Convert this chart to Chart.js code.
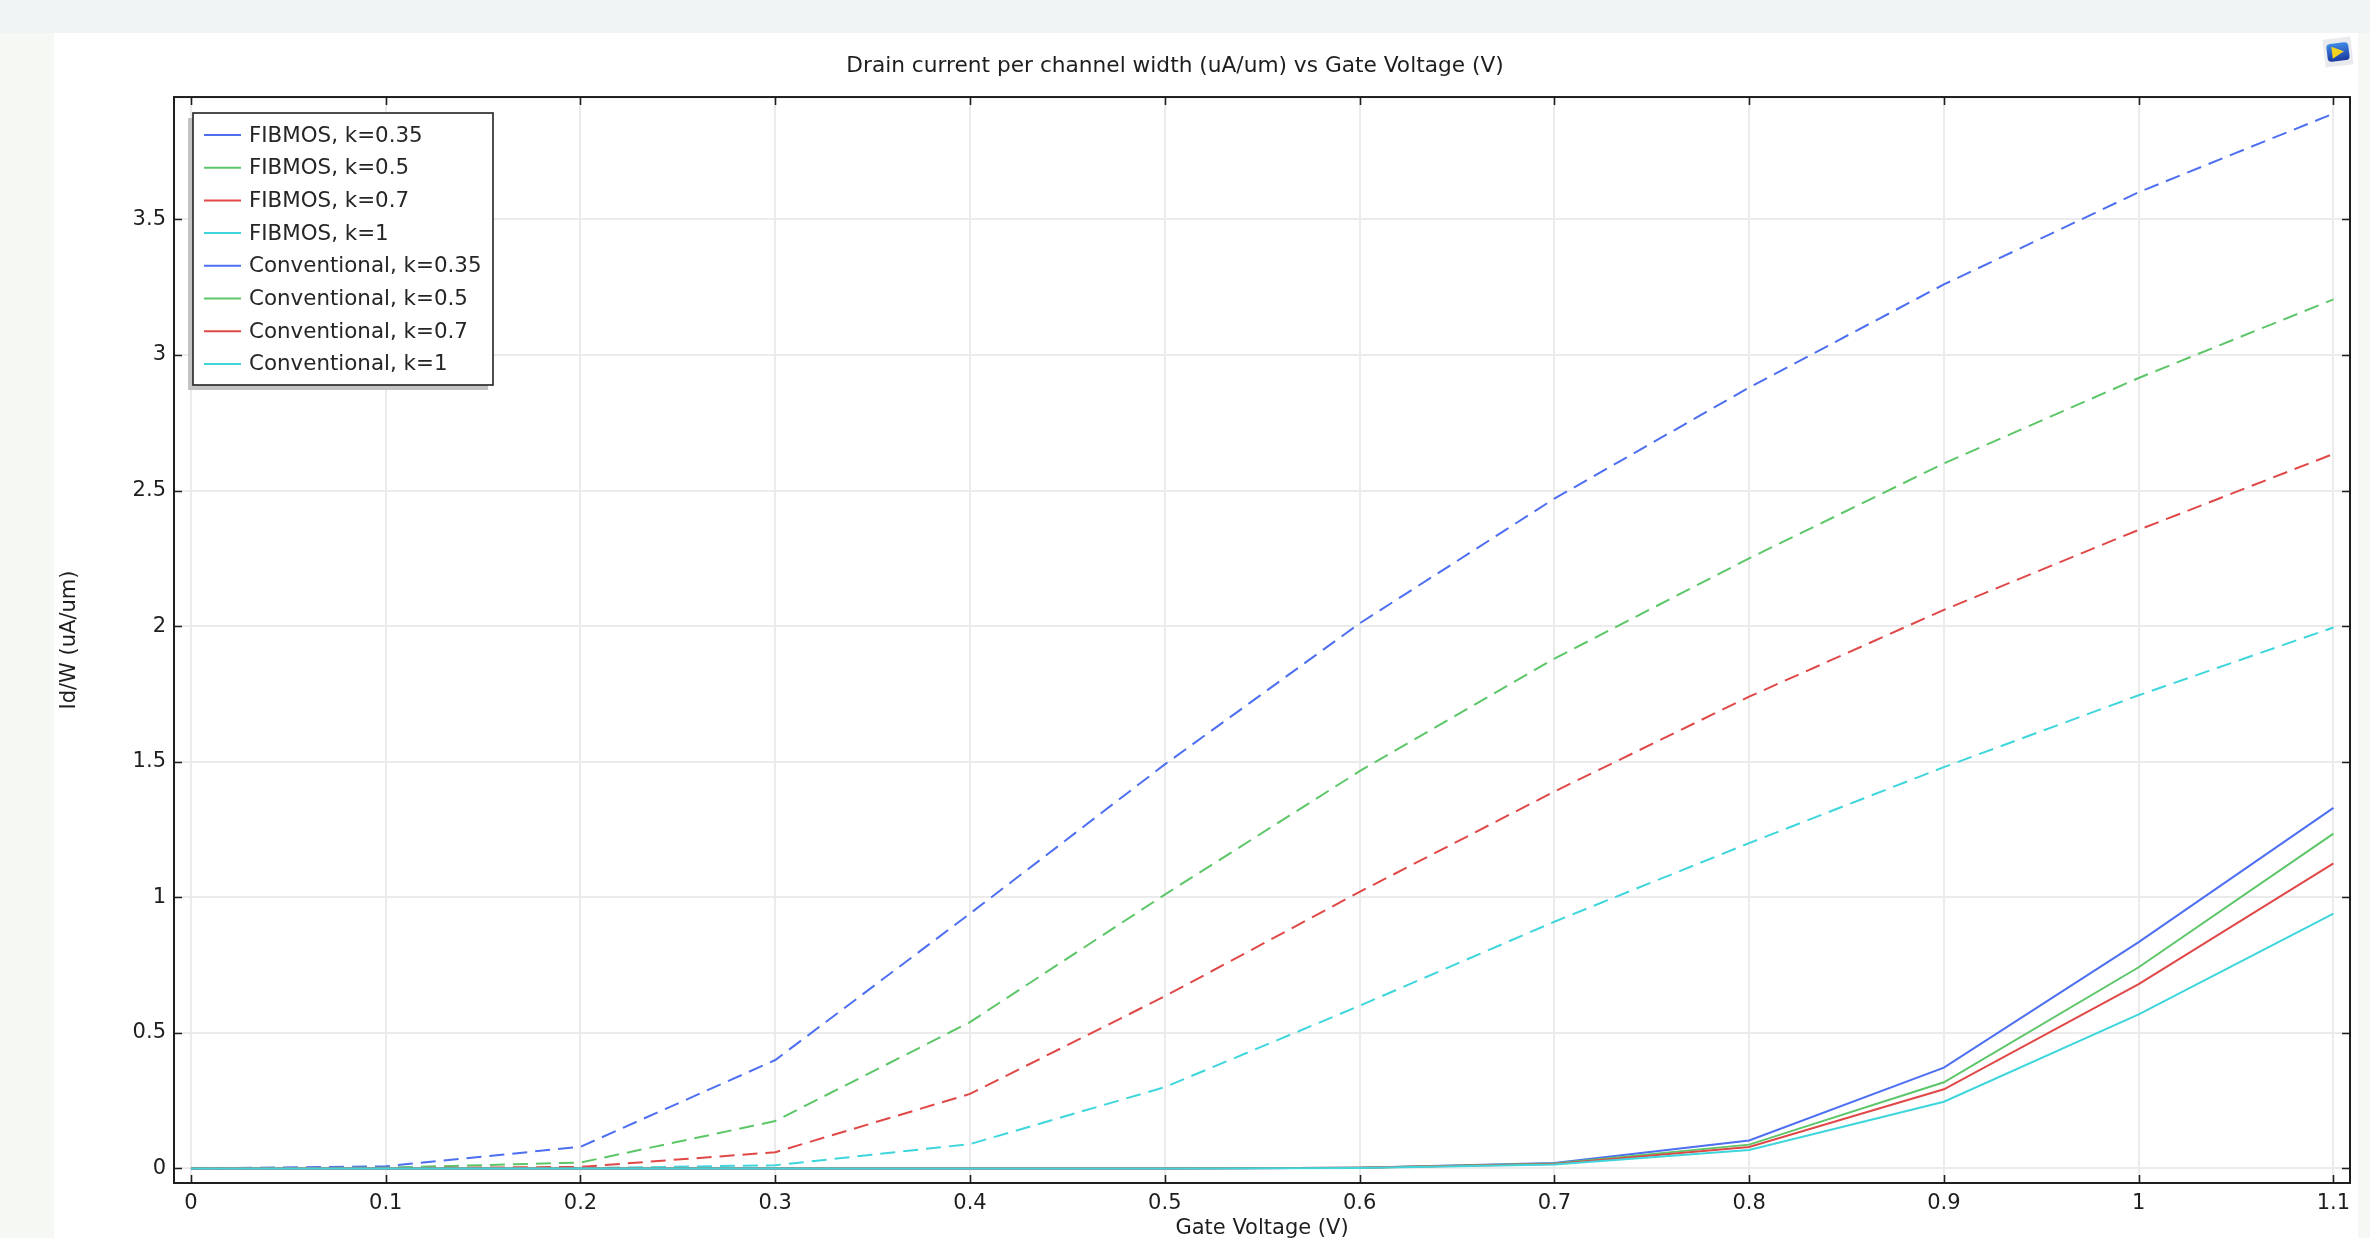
<!DOCTYPE html>
<html>
<head>
<meta charset="utf-8">
<script src="https://cdn.jsdelivr.net/npm/chart.js@4/dist/chart.umd.min.js"></script>
<style>
  html, body { margin: 0; padding: 0; background: #f6f8f3; }
  canvas { display: block; }
</style>
</head>
<body>
<canvas id="grafica" width="2370" height="1238"></canvas>
<script>
// Datos
const gateVoltage = [0, 0.1, 0.2, 0.3, 0.4, 0.5, 0.6, 0.7, 0.8, 0.9, 1.0, 1.1];

const fibmos035 = [0, 0.008, 0.08, 0.40, 0.94, 1.49, 2.01, 2.47, 2.88, 3.26, 3.60, 3.89];
const fibmos05 = [0, 0.003, 0.022, 0.175, 0.54, 1.01, 1.465, 1.88, 2.25, 2.60, 2.915, 3.205];
const fibmos07 = [0, 0.001, 0.006, 0.06, 0.275, 0.635, 1.02, 1.39, 1.74, 2.06, 2.355, 2.635];
const fibmos1 = [0, 0, 0.001, 0.012, 0.09, 0.30, 0.60, 0.91, 1.20, 1.48, 1.745, 1.995];

const conv035 = [0, 0, 0, 0, 0, 0, 0.003, 0.02, 0.103, 0.372, 0.835, 1.33];
const conv05 = [0, 0, 0, 0, 0, 0, 0.003, 0.018, 0.088, 0.318, 0.742, 1.235];
const conv07 = [0, 0, 0, 0, 0, 0, 0.003, 0.017, 0.079, 0.292, 0.68, 1.125];
const conv1 = [0, 0, 0, 0, 0, 0, 0.002, 0.015, 0.068, 0.246, 0.568, 0.94];

const seriesNames = [
  "FIBMOS, k=0.35", "FIBMOS, k=0.5", "FIBMOS, k=0.7", "FIBMOS, k=1",
  "Conventional, k=0.35", "Conventional, k=0.5", "Conventional, k=0.7", "Conventional, k=1",
];
const seriesValues = [fibmos035, fibmos05, fibmos07, fibmos1, conv035, conv05, conv07, conv1];

const xTicks = [0, 0.1, 0.2, 0.3, 0.4, 0.5, 0.6, 0.7, 0.8, 0.9, 1.0, 1.1];
const xTickLabels = ["0", "0.1", "0.2", "0.3", "0.4", "0.5", "0.6", "0.7", "0.8", "0.9", "1", "1.1"];
const yTicks = [0, 0.5, 1, 1.5, 2, 2.5, 3, 3.5];
const yTickLabels = ["0", "0.5", "1", "1.5", "2", "2.5", "3", "3.5"];

const titulo = "Drain current per channel width (uA/um) vs Gate Voltage (V)";
const tituloX = "Gate Voltage (V)";
const tituloY = "Id/W (uA/um)";

const colores = ["#4d6ff0", "#5cc668", "#e04848", "#3ed6dc"];
const TEXTO = "#1e1e1e";

Chart.defaults.font.family = "'DejaVu Sans', sans-serif";
Chart.defaults.font.size = 21;
Chart.defaults.color = TEXTO;

const datasets = seriesValues.map((vals, i) => ({
  label: seriesNames[i],
  data: gateVoltage.map((x, j) => ({ x: x, y: vals[j] })),
  borderColor: colores[i % 4],
  backgroundColor: colores[i % 4],
  borderWidth: 2,
  borderDash: i < 4 ? [15, 8] : [],
  pointRadius: 0,
  tension: 0,
  fill: false,
  order: seriesValues.length - i,
}));

// Fondo de la ventana y panel blanco
const fondo = {
  id: "fondo",
  afterLayout(chart) {
    // el título del original está algo desplazado a la izquierda
    if (chart.titleBlock) {
      chart.titleBlock.left -= 27;
      chart.titleBlock.right -= 27;
    }
  },
  beforeDraw(chart) {
    const ctx = chart.ctx;
    ctx.save();
    ctx.fillStyle = "#f6f8f3";
    ctx.fillRect(0, 0, chart.width, chart.height);
    ctx.fillStyle = "#f1f4f4";
    ctx.fillRect(0, 0, chart.width, 33);
    ctx.fillStyle = "#ffffff";
    ctx.fillRect(54, 33, 2304, chart.height - 33);
    ctx.restore();
  },
};

// Marco, marcas interiores, leyenda e icono
const marco = {
  id: "marco",
  afterDraw(chart) {
    const ctx = chart.ctx;
    const a = chart.chartArea;
    const sx = chart.scales.x;
    const sy = chart.scales.y;
    ctx.save();
    ctx.strokeStyle = TEXTO;
    ctx.lineWidth = 2;
    ctx.strokeRect(a.left, a.top, a.right - a.left, a.bottom - a.top);

    const L = 8;
    ctx.beginPath();
    xTicks.forEach((v) => {
      const px = Math.round(sx.getPixelForValue(v)) + 0.5;
      ctx.moveTo(px, a.bottom);
      ctx.lineTo(px, a.bottom - L);
      ctx.moveTo(px, a.top);
      ctx.lineTo(px, a.top + L);
    });
    yTicks.forEach((v) => {
      const py = Math.round(sy.getPixelForValue(v)) + 0.5;
      ctx.moveTo(a.left, py);
      ctx.lineTo(a.left + L, py);
      ctx.moveTo(a.right, py);
      ctx.lineTo(a.right - L, py);
    });
    ctx.lineWidth = 1.6;
    ctx.stroke();

    // leyenda
    const bx = 193, by = 113, bw = 300, bh = 272;
    ctx.fillStyle = "#c4c4c4";
    ctx.fillRect(bx - 5, by + 5, bw, bh);
    ctx.fillStyle = "#ffffff";
    ctx.fillRect(bx, by, bw, bh);
    ctx.strokeStyle = "#222";
    ctx.lineWidth = 1.6;
    ctx.strokeRect(bx, by, bw, bh);
    ctx.font = "21.4px 'DejaVu Sans'";
    ctx.textBaseline = "middle";
    chart.data.datasets.forEach((ds, i) => {
      const y = by + 22 + i * 32.7;
      ctx.strokeStyle = ds.borderColor;
      ctx.lineWidth = 2;
      ctx.setLineDash([]);
      ctx.beginPath();
      ctx.moveTo(bx + 11, y);
      ctx.lineTo(bx + 48, y);
      ctx.stroke();
      ctx.fillStyle = "#262626";
      ctx.fillText(ds.label, bx + 56, y + 1);
    });

    // icono
    ctx.translate(2338, 52);
    ctx.rotate(-0.12);
    ctx.fillStyle = "#e8eaee";
    ctx.fillRect(-14, -14, 28, 28);
    const g = ctx.createLinearGradient(0, -9, 0, 9);
    g.addColorStop(0, "#3f8ae6");
    g.addColorStop(1, "#1a3aa0");
    ctx.fillStyle = g;
    ctx.beginPath();
    ctx.roundRect(-11, -9, 22, 18, 4);
    ctx.fill();
    ctx.fillStyle = "#f2d21e";
    ctx.beginPath();
    ctx.moveTo(-6, -6);
    ctx.lineTo(6, 0);
    ctx.lineTo(-6, 6);
    ctx.closePath();
    ctx.fill();
    ctx.restore();
  },
};

new Chart(document.getElementById("grafica").getContext("2d"), {
  type: "line",
  data: { datasets: datasets },
  plugins: [fondo, marco],
  options: {
    responsive: false,
    animation: false,
    devicePixelRatio: 1,
    layout: { padding: { left: 54, top: 33, right: 20, bottom: 0 } },
    plugins: {
      legend: { display: false },
      tooltip: { enabled: false },
      title: {
        display: true,
        text: titulo,
        color: TEXTO,
        font: { size: 21.7, weight: "normal", lineHeight: 1.2 },
        padding: { top: 20, bottom: 18 },
      },
    },
    scales: {
      x: {
        type: "linear",
        min: -0.0087,
        max: 1.1085,
        afterBuildTicks: (scale) => {
          scale.ticks = xTicks.map((v) => ({ value: v }));
        },
        afterFit: (scale) => {
          scale.height = 55;
          scale.paddingLeft = 0;
          scale.paddingRight = 0;
        },
        ticks: {
          padding: 8,
          maxRotation: 0,
          autoSkip: false,
          callback: (v, i) => xTickLabels[i],
        },
        grid: { color: "#ebebeb", lineWidth: 2, drawTicks: false },
        border: { display: false },
        title: {
          display: true,
          text: tituloX,
          padding: 0,
          font: { size: 21, lineHeight: 0.9 },
        },
      },
      y: {
        type: "linear",
        min: -0.0535,
        max: 3.951,
        afterBuildTicks: (scale) => {
          scale.ticks = yTicks.map((v) => ({ value: v }));
        },
        afterFit: (scale) => {
          scale.width = 120;
          scale.paddingTop = 0;
          scale.paddingBottom = 0;
        },
        ticks: {
          padding: 8,
          autoSkip: false,
          callback: (v, i) => yTickLabels[i],
        },
        grid: { color: "#ebebeb", lineWidth: 2, drawTicks: false },
        border: { display: false },
        title: {
          display: true,
          text: tituloY,
          padding: { top: 3, bottom: 0 },
          font: { size: 21, lineHeight: 1.2 },
        },
      },
    },
  },
});
</script>
</body>
</html>
